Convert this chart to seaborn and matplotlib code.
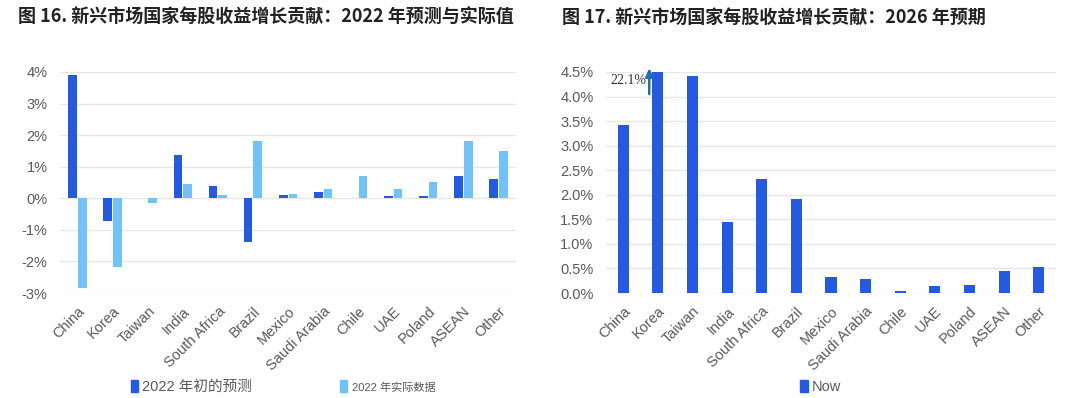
import pandas as pd
import matplotlib
matplotlib.use("Agg")
import matplotlib.pyplot as plt
from matplotlib.patches import Patch
import seaborn as sns

# --- data ---
countries = ["China", "Korea", "Taiwan", "India", "South Africa", "Brazil", "Mexico",
             "Saudi Arabia", "Chile", "UAE", "Poland", "ASEAN", "Other"]
forecast_2022 = [3.92, -0.73, 0.0, 1.37, 0.40, -1.37, 0.12, 0.21, 0.01, 0.08, 0.07, 0.72, 0.60]
actual_2022 = [-2.84, -2.19, -0.16, 0.46, 0.10, 1.80, 0.15, 0.30, 0.71, 0.29, 0.53, 1.82, 1.51]
now_2026 = [3.43, 22.1, 4.41, 1.45, 2.33, 1.91, 0.33, 0.28, 0.05, 0.15, 0.17, 0.44, 0.53]

series_names = ["2022 年初的预测", "2022 年实际数据"]
left_ticks = [-3, -2, -1, 0, 1, 2, 3, 4]
right_ticks = [0, 0.5, 1.0, 1.5, 2.0, 2.5, 3.0, 3.5, 4.0, 4.5]

title_left = "图 16. 新兴市场国家每股收益增长贡献：2022 年预测与实际值"
title_right = "图 17. 新兴市场国家每股收益增长贡献：2026 年预期"

DARK = "#2359e3"
LIGHT = "#72c1f8"
GRID = "#e6e6e6"
TXT = "#595959"

sns.set_theme(style="white")
plt.rcParams["font.family"] = ["Liberation Sans", "Noto Sans CJK SC"]

fig = plt.figure(figsize=(10.8, 3.98), dpi=100)
ax1 = fig.add_axes([0.0556, 0.2638, 0.4222, 0.5553])
ax2 = fig.add_axes([0.5611, 0.2638, 0.4167, 0.5553])

# --- left chart: 2022 forecast vs actual ---
df_left = pd.DataFrame({
    "country": countries * 2,
    "value": forecast_2022 + actual_2022,
    "series": [series_names[0]] * len(countries) + [series_names[1]] * len(countries),
})
sns.barplot(data=df_left, x="country", y="value", hue="series", palette=[DARK, LIGHT],
            width=0.55, gap=0.1, linewidth=0, saturation=1, legend=False, ax=ax1)
ax1.set_ylim(-3, 4)
ax1.set_yticks(left_ticks)
ax1.set_yticklabels([f"{t}%" for t in left_ticks])

# --- right chart: 2026 expectations ---
df_right = pd.DataFrame({"country": countries, "value": now_2026})
sns.barplot(data=df_right, x="country", y="value", color=DARK, width=0.32,
            linewidth=0, saturation=1, ax=ax2)
ax2.set_ylim(0, 4.5)
ax2.set_yticks(right_ticks)
ax2.set_yticklabels([f"{t:.1f}%" for t in right_ticks])

# Korea bar is cut off at the axis top, mark its real value
k = countries.index("Korea")
ax2.annotate("", xy=(k - 0.25, 4.58), xytext=(k - 0.25, 4.05),
             arrowprops=dict(arrowstyle="-|>,head_width=0.18,head_length=0.4",
                             color="#1b6fae", lw=1.8, shrinkA=0, shrinkB=0,
                             clip_on=False),
             annotation_clip=False, zorder=5)
ax2.text(k - 0.34, 4.32, f"{now_2026[k]}%", ha="right", va="center",
         fontsize=10, color="#333333", family="Liberation Serif")

for ax in (ax1, ax2):
    ax.set_xlim(-0.5, len(countries) - 0.5)
    ax.set_xlabel("")
    ax.set_ylabel("")
    for s in ax.spines.values():
        s.set_visible(False)
    ax.grid(axis="y", color=GRID, linewidth=1)
    ax.set_axisbelow(True)
    ax.tick_params(axis="y", length=0, pad=9, labelsize=10.5, labelcolor=TXT)
    ax.tick_params(axis="x", length=0, pad=8, labelsize=10.5, labelcolor=TXT)
    for lab in ax.get_xticklabels():
        lab.set_rotation(45)
        lab.set_ha("right")
        lab.set_rotation_mode("anchor")

# --- legends under each chart ---
leg1 = ax1.legend(handles=[Patch(color=DARK), Patch(color=LIGHT)], labels=series_names,
                  loc="center", bbox_to_anchor=(0.262, 0.028), bbox_transform=fig.transFigure,
                  ncol=2, frameon=False, handlelength=0.5, handleheight=0.9,
                  handletextpad=0.3, columnspacing=6, fontsize=10.5)
for t in leg1.get_texts():
    t.set_color(TXT)
leg1.get_texts()[1].set_fontsize(8)

leg2 = ax2.legend(handles=[Patch(color=DARK)], labels=["Now"],
                  loc="center", bbox_to_anchor=(0.76, 0.028), bbox_transform=fig.transFigure,
                  frameon=False, handlelength=0.5, handleheight=0.9,
                  handletextpad=0.3, fontsize=10.5)
for t in leg2.get_texts():
    t.set_color(TXT)

# --- titles ---
fig.text(0.0167, 1 - 17 / 398, title_left, ha="left", va="center", fontsize=13,
         fontweight="bold", color="#222222", family=["Noto Sans CJK SC"])
fig.text(0.520, 1 - 17 / 398, title_right, ha="left", va="center", fontsize=13,
         fontweight="bold", color="#222222", family=["Noto Sans CJK SC"])

fig.savefig("out.png", dpi=100, facecolor="white")
